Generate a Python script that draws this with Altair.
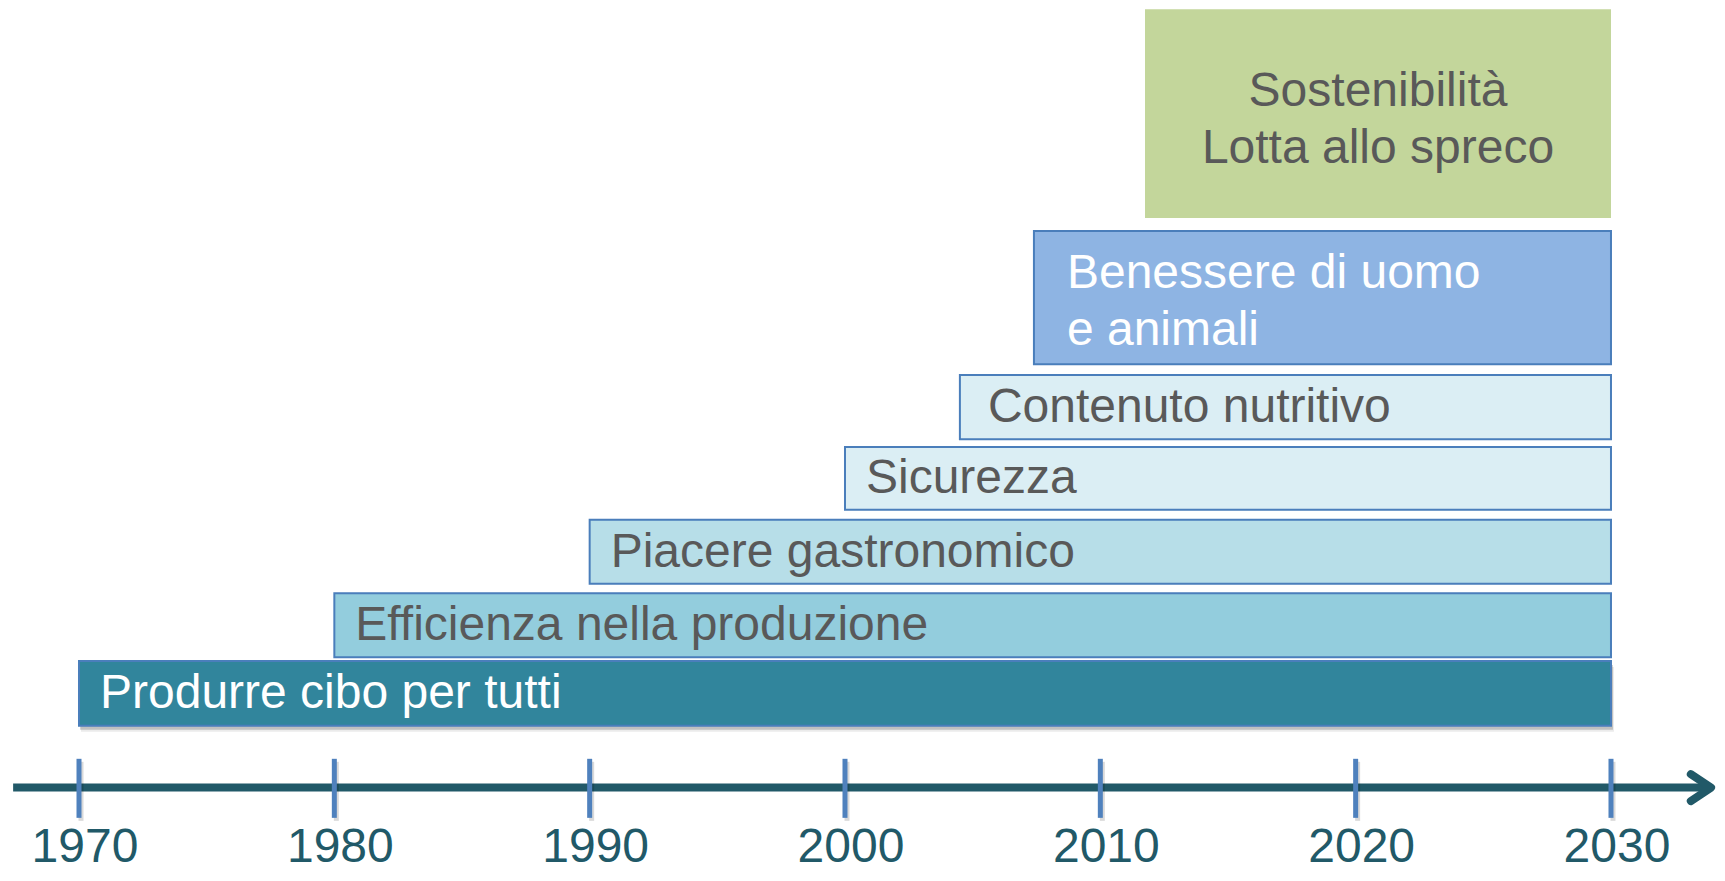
import altair as alt
import pandas as pd

# ---- data ----
labels = [
    "Produrre cibo per tutti",
    "Efficienza nella produzione",
    "Piacere gastronomico",
    "Sicurezza",
    "Contenuto nutritivo",
    "Benessere di uomo\ne animali",
    "Sostenibilità\nLotta allo spreco",
]
start_year = [1970, 1980, 1990, 2000, 2004.5, 2007.4, 2011.75]
end_year = [2030, 2030, 2030, 2030, 2030, 2030, 2030]
level_low = [0.86, 1.81, 2.83, 3.86, 4.84, 5.88, 7.91]
level_high = [1.76, 2.70, 3.72, 4.73, 5.73, 7.73, 10.81]

tick_years = [1970, 1980, 1990, 2000, 2010, 2020, 2030]
tick_labels = ["1970", "1980", "1990", "2000", "2010", "2020", "2030"]

axis_start = 1967.42
axis_end = 2033.8
arrow_tip = 2033.92

# ---- styles ----
fills = ["#31859c", "#93cddd", "#b7dee8", "#dbeef4", "#dbeef4", "#8eb4e3", "#c3d69b"]
strokes = ["#4a7ebb", "#4a7ebb", "#4a7ebb", "#4a7ebb", "#4a7ebb", "#4a7ebb", "rgba(0,0,0,0)"]
FONT = "Liberation Sans"
DARK = "#215968"
FS = 48

W, H = 1709, 865
xs = alt.Scale(domain=[1967.2193, 2034.152], nice=False, zero=False)
ys = alt.Scale(domain=[-1.186, 10.828], nice=False, zero=False)

boxes = pd.DataFrame({
    "idx": list(range(len(labels))),
    "label": labels,
    "start": start_year,
    "end": end_year,
    "lo": level_low,
    "hi": level_high,
})
ticks = pd.DataFrame({"year": tick_years, "text": tick_labels})
axis_df = pd.DataFrame({"a": [axis_start], "b": [axis_end], "tip": [arrow_tip], "lvl": [0.0]})

X = lambda f: alt.X(f, type="quantitative", scale=xs, axis=None)
Y = lambda f: alt.Y(f, type="quantitative", scale=ys, axis=None)

base = alt.Chart(boxes).transform_calculate(
    mid="(datum.lo + datum.hi) / 2", cx="(datum.start + datum.end) / 2"
)

shadow = base.transform_filter("datum.idx == 0").mark_rect(
    color="#000000", opacity=0.18, yOffset=4, y2Offset=4, xOffset=1, x2Offset=2
).encode(x=X("start"), x2="end", y=Y("lo"), y2="hi")

shadow2 = base.transform_filter("datum.idx == 0").mark_rect(
    color="#000000", opacity=0.08, yOffset=6, y2Offset=6, xOffset=2, x2Offset=3
).encode(x=X("start"), x2="end", y=Y("lo"), y2="hi")

rects = base.mark_rect(strokeWidth=2).encode(
    x=X("start"), x2="end", y=Y("lo"), y2="hi",
    fill=alt.Fill("label:N", scale=alt.Scale(domain=labels, range=fills), legend=None),
    stroke=alt.Stroke("label:N", scale=alt.Scale(domain=labels, range=strokes), legend=None),
)

single_text = base.transform_filter("datum.idx <= 3").mark_text(
    align="left", baseline="middle", dx=21, dy=1, font=FONT, fontSize=FS
).encode(
    x=X("start"), y=Y("mid"), text="label:N",
    color=alt.condition("datum.idx == 0", alt.value("#ffffff"), alt.value("#595959")),
)

contenuto_text = base.transform_filter("datum.idx == 4").mark_text(
    align="left", baseline="middle", dx=28, dy=1, font=FONT, fontSize=FS, color="#595959"
).encode(x=X("start"), y=Y("mid"), text="label:N")

benessere_text = base.transform_filter("datum.idx == 5").mark_text(
    align="left", baseline="middle", dx=33, dy=-24, font=FONT, fontSize=FS,
    lineBreak="\n", lineHeight=57, color="#ffffff"
).encode(x=X("start"), y=Y("mid"), text="label:N")

sost_text = base.transform_filter("datum.idx == 6").mark_text(
    align="center", baseline="middle", dy=-22, font=FONT, fontSize=FS,
    lineBreak="\n", lineHeight=57, color="#595959"
).encode(x=X("cx"), y=Y("mid"), text="label:N")

axis_line = alt.Chart(axis_df).mark_rule(color=DARK, strokeWidth=8, strokeCap="butt").encode(
    x=X("a"), x2="b", y=Y("lvl")
)

arrow = alt.Chart(axis_df).mark_point(
    shape="M-1.5,-1L0,0L-1.5,1", size=729, filled=False, strokeWidth=8,
    color=DARK, opacity=1, strokeCap="round", strokeJoin="round"
).encode(x=X("tip"), y=Y("lvl"))

tick_base = alt.Chart(ticks).transform_calculate(t0="-0.42", t1="0.40")

tick_shadow = tick_base.mark_rule(color="#000000", opacity=0.15, strokeWidth=5,
                                  xOffset=2, x2Offset=2, yOffset=3, y2Offset=3).encode(
    x=X("year"), y=Y("t0:Q"), y2="t1:Q"
)

tick_marks = tick_base.mark_rule(color="#4f81bd", strokeWidth=5).encode(
    x=X("year"), y=Y("t0:Q"), y2="t1:Q"
)

tick_text = alt.Chart(ticks).transform_calculate(lv="-1.035").mark_text(
    align="center", baseline="alphabetic", dx=6, font=FONT, fontSize=FS, color=DARK
).encode(x=X("year"), y=Y("lv:Q"), text="text:N")

chart = alt.layer(
    shadow2, shadow, rects, single_text, contenuto_text, benessere_text, sost_text,
    axis_line, arrow, tick_shadow, tick_marks, tick_text
).properties(
    width=W, height=H, padding=0, background="white",
    autosize=alt.AutoSizeParams(type="none"),
).configure_view(strokeWidth=0)

chart.save("out.html", embed_options={"renderer": "svg", "actions": False})
